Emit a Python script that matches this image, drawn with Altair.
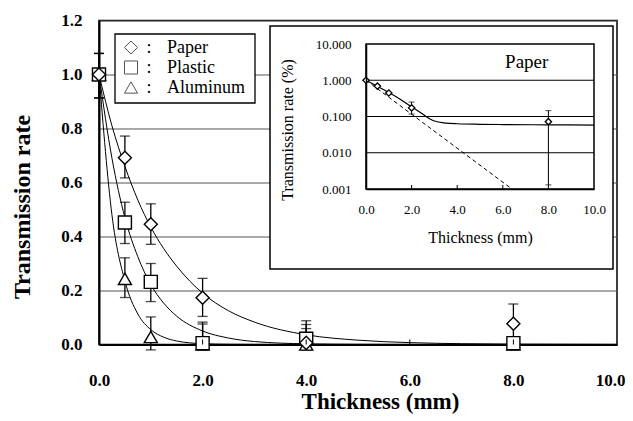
import altair as alt
import pandas as pd

# ---------------- data ----------------
thickness = [0, 0.5, 1, 2, 4, 8]
materials = ["Paper", "Plastic", "Aluminum"]
shapes = ["diamond", "square", "triangle-up"]

paper = [1.0, 0.692, 0.445, 0.173, 0.006, 0.077]
paper_hi = [1.078, 0.772, 0.521, 0.245, 0.088, 0.150]
paper_lo = [0.913, 0.617, 0.371, 0.104, -0.020, 0.000]

plastic = [1.0, 0.452, 0.232, 0.005, 0.021, 0.005]
plastic_hi = [1.078, 0.527, 0.300, 0.083, 0.074, 0.010]
plastic_lo = [0.913, 0.374, 0.159, -0.020, -0.010, -0.020]

aluminum = [1.0, 0.243, 0.028, 0.000, 0.000, 0.000]
aluminum_hi = [1.078, 0.321, 0.102, 0.076, 0.059, 0.005]
aluminum_lo = [0.913, 0.174, -0.020, -0.020, -0.020, -0.005]

curve_x = [0, 0.25, 0.5, 0.75, 1, 1.25, 1.5, 2, 2.5, 3, 4, 5, 6, 7, 8, 10]
paper_fit = [1.0, 0.81, 0.66, 0.535, 0.435, 0.355, 0.29, 0.19, 0.125, 0.083,
             0.036, 0.016, 0.007, 0.003, 0.0013, 0.0003]
plastic_fit = [1.0, 0.69, 0.47, 0.325, 0.222, 0.153, 0.105, 0.05, 0.024, 0.011,
               0.0025, 0.0006, 0.0001, 0.0, 0.0, 0.0]
aluminum_fit = [1.0, 0.48, 0.235, 0.113, 0.055, 0.027, 0.013, 0.003, 0.0007,
                0.0002, 0.0, 0.0, 0.0, 0.0, 0.0, 0.0]

x_ticks = [0, 2, 4, 6, 8, 10]
y_ticks = [0, 0.2, 0.4, 0.6, 0.8, 1.0, 1.2]
inner_ticks = [2, 4, 6, 8]

# inset (paper, log scale)
inset_x = [0, 0.5, 1, 2, 8]
inset_y = [1.0, 0.69, 0.445, 0.173, 0.072]
inset_err_x = [2, 8]
inset_err_lo = [0.117, 0.0013]
inset_err_hi = [0.25, 0.145]
inset_fit_x = [0, 0.5, 1, 1.5, 2, 2.5, 2.75, 3, 3.5, 4, 5, 6, 8, 10]
inset_fit_y = [1.0, 0.68, 0.46, 0.30, 0.185, 0.115, 0.09, 0.075, 0.066, 0.063,
               0.061, 0.060, 0.059, 0.058]
inset_dash_x = [0, 6.4]
inset_dash_y = [1.0, 0.001]
inset_y_ticks = [0.001, 0.01, 0.1, 1, 10]
inset_grid = [0.01, 0.1, 1]

# ---------------- layout constants ----------------
W, H = 518, 324
IX0, IX1 = 267, 495        # inset plot area (px, relative to main plot)
IY0, IY1 = 168.5, 23.5
SERIF = "Liberation Serif"

# ---------------- tables ----------------
pts = []
for m, v, lo, hi in [("Aluminum", aluminum, aluminum_lo, aluminum_hi),
                     ("Plastic", plastic, plastic_lo, plastic_hi),
                     ("Paper", paper, paper_lo, paper_hi)]:
    for t, a, b, c in zip(thickness, v, lo, hi):
        pts.append({"material": m, "t": t, "v": a, "lo": b, "hi": c})
df_pts = pd.DataFrame(pts)

fits = []
for m, f in [("Paper", paper_fit), ("Plastic", plastic_fit), ("Aluminum", aluminum_fit)]:
    for t, a in zip(curve_x, f):
        fits.append({"material": m, "t": t, "v": a})
df_fit = pd.DataFrame(fits)

df_leg = pd.DataFrame({"material": materials})
df_ticks = pd.DataFrame({"t": inner_ticks})
df_one = pd.DataFrame({"a": [0]})

df_ipts = pd.DataFrame({"t": inset_x, "v": inset_y})
df_ierr = pd.DataFrame({"t": inset_err_x, "lo": inset_err_lo, "hi": inset_err_hi})
df_ifit = pd.DataFrame({"t": inset_fit_x, "v": inset_fit_y})
df_idash = pd.DataFrame({"t": inset_dash_x, "v": inset_dash_y})
df_igrid = pd.DataFrame({"g": inset_grid})

# ---------------- scales ----------------
def mxs():
    return alt.Scale(domain=[0, 10], nice=False, zero=False)

def mys():
    return alt.Scale(domain=[0, 1.2], nice=False, zero=False)

def ixs():
    return alt.Scale(domain=[0, 10], range=[IX0, IX1], nice=False, zero=False)

def iys():
    return alt.Scale(type="log", domain=[0.001, 10], range=[IY0, IY1], nice=False)

shape_scale = alt.Scale(domain=materials, range=shapes)

x_axis = alt.Axis(values=x_ticks, format=".1f", labelFont=SERIF, labelFontSize=17,
                  labelFontWeight="bold", labelPadding=28, labelFlush=False, tickSize=0,
                  labelAlign={"condition": {"test": "datum.value >= 10", "value": "right"},
                              "value": "center"},
                  labelOffset={"condition": {"test": "datum.value >= 10", "value": 8},
                               "value": 0},
                  grid=False, domainColor="black", domainWidth=2, title="Thickness (mm)",
                  titleFont=SERIF, titleFontSize=23, titleFontWeight="bold",
                  titleX=281, titleY=57, titleBaseline="middle", labelColor="black",
                  titleColor="black", orient="bottom")
y_axis = alt.Axis(values=y_ticks, format=".1f", labelFont=SERIF, labelFontSize=17,
                  labelFontWeight="bold", labelPadding=17, labelFlush=False, tickSize=0,
                  grid=True, gridColor="#555", gridWidth=1.2, domainColor="black",
                  domainWidth=2, title="Transmission rate", titleFont=SERIF, titleFontSize=24,
                  titleFontWeight="bold", titleX=-77, titleY=186, titleBaseline="middle",
                  labelColor="black", titleColor="black", orient="left")

curves = alt.Chart(df_fit).mark_line(color="black", strokeWidth=1, interpolate="monotone").encode(
    x=alt.X("t:Q", scale=mxs(), axis=x_axis),
    y=alt.Y("v:Q", scale=mys(), axis=y_axis),
    detail="material:N",
)

err = alt.Chart(df_pts).mark_rule(color="black", strokeWidth=1.3).encode(
    x=alt.X("t:Q", scale=mxs(), axis=None),
    y=alt.Y("lo:Q", scale=mys(), axis=None),
    y2="hi:Q",
)
cap_hi = alt.Chart(df_pts).mark_tick(color="black", orient="horizontal", size=10, thickness=1.3).encode(
    x=alt.X("t:Q", scale=mxs(), axis=None),
    y=alt.Y("hi:Q", scale=mys(), axis=None),
)
cap_lo = alt.Chart(df_pts).mark_tick(color="black", orient="horizontal", size=10, thickness=1.3).encode(
    x=alt.X("t:Q", scale=mxs(), axis=None),
    y=alt.Y("lo:Q", scale=mys(), axis=None),
)

points = alt.Chart(df_pts).mark_point(filled=False, fill="white", fillOpacity=1, stroke="black",
                                      strokeWidth=1.4, size=170, opacity=1).encode(
    x=alt.X("t:Q", scale=mxs(), axis=None),
    y=alt.Y("v:Q", scale=mys(), axis=None),
    shape=alt.Shape("material:N", scale=shape_scale, legend=None),
)

main_ticks = alt.Chart(df_ticks).mark_rule(color="black", strokeWidth=1).encode(
    x=alt.X("t:Q", scale=mxs(), axis=None),
    y=alt.value(H), y2=alt.value(H - 5),
)

# ---------------- legend (drawn box, symbols and names) ----------------
leg_y = alt.Y("material:N", scale=alt.Scale(type="point", domain=materials,
                                            range=[27, 67], padding=0), axis=None)
leg_box = alt.Chart(df_one).mark_rect(fill="white", stroke="black", strokeWidth=1.3).encode(
    x=alt.value(16), x2=alt.value(156), y=alt.value(13.5), y2=alt.value(82.5),
)
leg_sym = alt.Chart(df_leg).mark_point(filled=False, fill="white", fillOpacity=1,
                                       stroke="#555", strokeWidth=1, size=170, opacity=1).encode(
    x=alt.value(32), y=leg_y,
    shape=alt.Shape("material:N", scale=shape_scale, legend=None),
)
leg_colon = alt.Chart(df_leg).mark_text(text=":", font=SERIF, fontSize=18, color="black",
                                        align="center", baseline="middle").encode(
    x=alt.value(50), y=leg_y,
)
leg_txt = alt.Chart(df_leg).mark_text(font=SERIF, fontSize=18, color="black",
                                      align="left", baseline="middle").encode(
    x=alt.value(68), y=leg_y, text="material:N",
)

inset_box = alt.Chart(df_one).mark_rect(fill="white", stroke="black", strokeWidth=1.5).encode(
    x=alt.value(171), x2=alt.value(514), y=alt.value(5.5), y2=alt.value(248.5),
)

# ---------------- inset ----------------
ix_axis = alt.Axis(orient="bottom", offset=-(H - IY0), values=x_ticks, format=".1f",
                   labelFont=SERIF, labelFontSize=13, labelPadding=14, labelFlush=False,
                   tickSize=0, grid=False, domainColor="black", domainWidth=1.5,
                   title="Thickness (mm)", titleFont=SERIF, titleFontSize=16,
                   titleFontWeight="normal", titlePadding=13, zindex=2,
                   labelColor="black", titleColor="black")
iy_axis = alt.Axis(orient="left", offset=-IX0, values=inset_y_ticks, format=".3f",
                   labelFont=SERIF, labelFontSize=13, labelPadding=15, labelFlush=False,
                   tickSize=0, grid=False, domainColor="black", domainWidth=1.5,
                   title="Transmission rate (%)", titleFont=SERIF, titleFontSize=16,
                   titleFontWeight="normal", titleX=-79, titleY=109, titleBaseline="middle",
                   zindex=2, labelColor="black", titleColor="black")

igrid = alt.Chart(df_igrid).mark_rule(color="black", strokeWidth=1.2).encode(
    y=alt.Y("g:Q", scale=iys(), axis=iy_axis),
    x=alt.XDatum(0, scale=ixs(), axis=None), x2=alt.X2Datum(10),
)
iframe = alt.Chart(df_one).mark_rect(fill="white", fillOpacity=0, stroke="black", strokeWidth=1.5).encode(
    x=alt.X("a:Q", scale=ixs(), axis=ix_axis),
    x2=alt.X2Datum(10),
    y=alt.YDatum(0.001, scale=iys(), axis=None), y2=alt.Y2Datum(10),
)
idash = alt.Chart(df_idash).mark_line(color="black", strokeWidth=1, strokeDash=[4, 3]).encode(
    x=alt.X("t:Q", scale=ixs(), axis=None),
    y=alt.Y("v:Q", scale=iys(), axis=None),
)
ifit = alt.Chart(df_ifit).mark_line(color="black", strokeWidth=1.2, interpolate="monotone").encode(
    x=alt.X("t:Q", scale=ixs(), axis=None),
    y=alt.Y("v:Q", scale=iys(), axis=None),
)
ierr = alt.Chart(df_ierr).mark_rule(color="black", strokeWidth=1).encode(
    x=alt.X("t:Q", scale=ixs(), axis=None),
    y=alt.Y("lo:Q", scale=iys(), axis=None),
    y2="hi:Q",
)
icap_hi = alt.Chart(df_ierr).mark_tick(color="black", orient="horizontal", size=6, thickness=1).encode(
    x=alt.X("t:Q", scale=ixs(), axis=None),
    y=alt.Y("hi:Q", scale=iys(), axis=None),
)
icap_lo = alt.Chart(df_ierr).mark_tick(color="black", orient="horizontal", size=6, thickness=1).encode(
    x=alt.X("t:Q", scale=ixs(), axis=None),
    y=alt.Y("lo:Q", scale=iys(), axis=None),
)
ipts = alt.Chart(df_ipts).mark_point(shape="diamond", filled=False, fill="white", fillOpacity=1,
                                     stroke="black", strokeWidth=1.3, size=40, opacity=1).encode(
    x=alt.X("t:Q", scale=ixs(), axis=None),
    y=alt.Y("v:Q", scale=iys(), axis=None),
)
iticks = alt.Chart(df_ticks).mark_rule(color="black", strokeWidth=1).encode(
    x=alt.X("t:Q", scale=ixs(), axis=None),
    y=alt.value(IY0), y2=alt.value(IY0 - 4),
)
ilabel = alt.Chart(df_one).mark_text(text="Paper", font=SERIF, fontSize=19, color="black",
                                     align="center", baseline="middle").encode(
    x=alt.XDatum(7.05, scale=ixs(), axis=None), y=alt.YDatum(3.1, scale=iys(), axis=None),
)

chart = alt.layer(
    curves, err, cap_hi, cap_lo, points, main_ticks,
    leg_box, leg_sym, leg_colon, leg_txt, inset_box,
    igrid, iframe, idash, ifit, ierr, icap_hi, icap_lo, ipts, iticks, ilabel,
).resolve_scale(x="independent", y="independent").properties(
    width=W, height=H, padding={"left": 2, "top": 3.5, "right": 0, "bottom": 0}
).configure_view(stroke="black", strokeWidth=1.5)

chart.save("out.html", embed_options={"renderer": "svg", "actions": False})
